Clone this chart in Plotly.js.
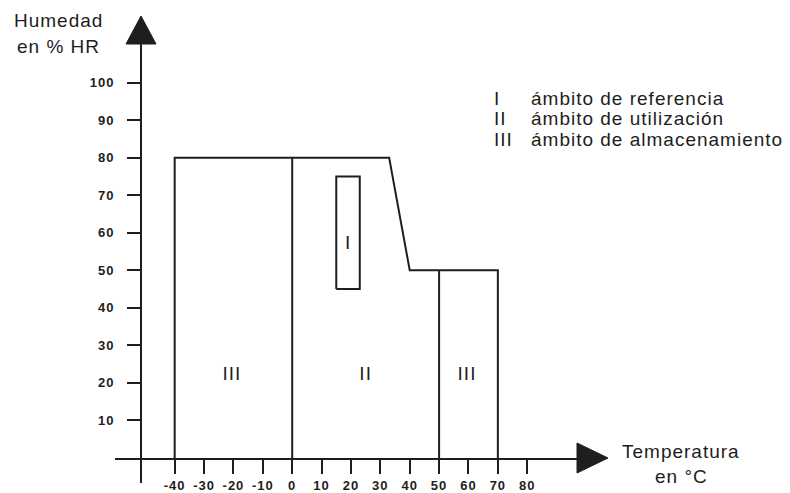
<!DOCTYPE html>
<html>
<head>
<meta charset="utf-8">
<script src="https://cdn.plot.ly/plotly-3.0.1.min.js"></script>
<style>
html,body{margin:0;padding:0;background:#fff;}
#chart{width:790px;height:493px;}
svg text{letter-spacing:1px;}
</style>
</head>
<body>
<div id="chart"></div>
<script>
// ---- data ----
const xTickVals = [-40, -30, -20, -10, 0, 10, 20, 30, 40, 50, 60, 70, 80];
const yTickVals = [10, 20, 30, 40, 50, 60, 70, 80, 90, 100];

// outer envelope of all ranges (temperature °C, humidity % HR)
const envelopeTemp = [-40, -40, 33, 40, 70, 70];
const envelopeHum  = [0, 80, 80, 50, 50, 0];
// dividers between storage / operating ranges
const divider1Temp = [0, 0];
const divider1Hum  = [0, 80];
const divider2Temp = [50, 50];
const divider2Hum  = [0, 50];
// reference range I
const refTemp = [15, 23, 23, 15, 15];
const refHum  = [45, 45, 75, 75, 45];

// zone labels
const zoneLabels = ['III', 'II', 'III', 'I'];
const zoneTemp   = [-20.5, 25, 59.5, 19];
const zoneHum    = [22, 22, 22, 57];

// legend text
const legendNumerals = ['I', 'II', 'III'];
const legendTexts = ['ámbito de referencia', 'ámbito de utilización', 'ámbito de almacenamiento'];

// ---- drawing ----
const ink = '#1e1e1e';
const font = 'Liberation Sans, Arial, Helvetica, sans-serif';
const lineStyle = {color: ink, width: 2};

function lineTrace(x, y) {
  return {x: x, y: y, type: 'scatter', mode: 'lines', line: lineStyle,
          hoverinfo: 'skip', showlegend: false, cliponaxis: false};
}

const traces = [
  lineTrace(envelopeTemp, envelopeHum),
  lineTrace(divider1Temp, divider1Hum),
  lineTrace(divider2Temp, divider2Hum),
  lineTrace(refTemp, refHum),
  {x: zoneTemp, y: zoneHum, text: zoneLabels, type: 'scatter', mode: 'text',
   textfont: {family: font, size: 19, color: ink}, hoverinfo: 'skip', showlegend: false}
];

// plot geometry (pixels)
const L = 115, R = 212, T = 44, B = 35;
const W = 790 - L - R, H = 493 - T - B;
const yAxisPos = (141 - L) / W;

function px(xp) { return (xp - L) / W; }
function py(yp) { return (H + T - yp) / H; }

const annotations = [];
function addText(text, xp, yp, anchor, size) {
  annotations.push({xref: 'paper', yref: 'paper', x: px(xp), y: py(yp),
    text: text, showarrow: false, xanchor: anchor, yanchor: 'middle',
    font: {family: font, size: size, color: ink}});
}
addText('Humedad', 58, 21, 'center', 19);
addText('en % HR', 58, 46, 'center', 19);
addText('Temperatura', 681, 451, 'center', 19);
addText('en °C', 681, 476, 'center', 19);
const legendY = [98, 118.5, 139];
for (let i = 0; i < legendTexts.length; i++) {
  addText(legendNumerals[i], 492, legendY[i], 'left', 19);
  addText(legendTexts[i], 529, legendY[i], 'left', 19);
}

const shapes = [
  // y axis extension below x axis
  {type: 'line', xref: 'paper', yref: 'paper', x0: yAxisPos, x1: yAxisPos, y0: 0, y1: py(483),
   line: {color: ink, width: 2}},
  // y arrow head
  {type: 'path', xref: 'paper', yref: 'paper',
   path: `M ${px(126)} ${py(44)} L ${px(141)} ${py(16)} L ${px(156)} ${py(44)} Z`,
   fillcolor: ink, line: {color: ink, width: 1}},
  // x arrow head
  {type: 'path', xref: 'paper', yref: 'paper',
   path: `M ${px(577)} ${py(443)} L ${px(608)} ${py(458)} L ${px(577)} ${py(473)} Z`,
   fillcolor: ink, line: {color: ink, width: 1}}
];

const xScale = 2.938; // px per °C
const yScale = 3.754; // px per %
const layout = {
  width: 790, height: 493,
  margin: {l: L, r: R, t: T, b: B, pad: 0},
  paper_bgcolor: '#fff', plot_bgcolor: '#fff',
  showlegend: false,
  xaxis: {
    range: [(L - 292.2) / xScale, (L + W - 292.2) / xScale],
    tickvals: xTickVals, ticktext: xTickVals.map(String),
    showgrid: false, zeroline: false, showline: true, linecolor: ink, linewidth: 2,
    ticks: 'outside', ticklen: 14, tickwidth: 2, tickcolor: ink,
    tickfont: {family: font, size: 13, color: ink, weight: 700},
    fixedrange: true
  },
  yaxis: {
    range: [0, H / yScale],
    tickvals: yTickVals, ticktext: yTickVals.map(String),
    anchor: 'free', position: yAxisPos,
    showgrid: false, zeroline: false, showline: true, linecolor: ink, linewidth: 2,
    ticks: 'outside', ticklen: 13, tickwidth: 2, tickcolor: ink,
    ticklabelstandoff: 10,
    tickfont: {family: font, size: 13, color: ink, weight: 700},
    fixedrange: true
  },
  annotations: annotations,
  shapes: shapes
};

Plotly.newPlot('chart', traces, layout, {staticPlot: true, displayModeBar: false});
</script>
</body>
</html>
